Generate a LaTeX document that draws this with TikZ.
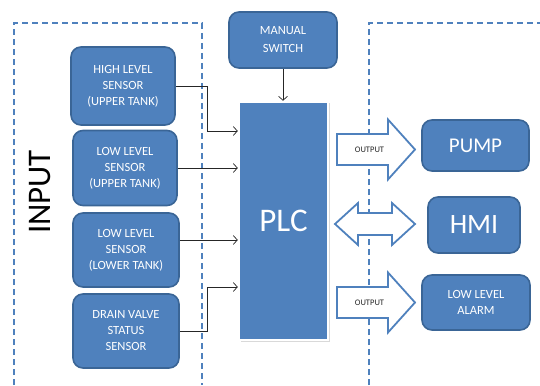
\documentclass[tikz,border=0pt]{standalone}
\usepackage{fontspec}
\setmainfont{Carlito}
\usetikzlibrary{arrows.meta,shadows}
\definecolor{boxblue}{HTML}{4F81BD}
\definecolor{boxedge}{HTML}{3A6596}
\begin{document}
\begin{tikzpicture}[x=1pt,y=-1pt,
  box/.style={draw=boxedge, line width=1.6pt, fill=boxblue, rounded corners=10pt,
    text=white, align=center, font=\fontsize{12.5}{16}\selectfont, inner sep=0pt},
  plcbox/.style={draw=white, line width=2.5pt, fill=boxblue, text=white,
    font=\fontsize{33}{36}\selectfont, inner sep=0pt,
    drop shadow={opacity=0.3, shadow xshift=1.5pt, shadow yshift=-1.5pt}},
  conn/.style={-{Straight Barb[length=4pt,width=9pt]}, line width=0.7pt, black!85},
  dashline/.style={draw=boxblue, line width=1.4pt, dash pattern=on 6pt off 4pt},
  bigarrow/.style={draw=boxblue, line width=1.8pt, fill=white, line join=miter},
  outlabel/.style={font=\fontsize{8.5}{10}\selectfont, inner sep=0pt, text=black!85}
]
\useasboundingbox (0,0) rectangle (540,385);

% dashed frames
\draw[dashline] (14,385) -- (14,23) -- (202,23) -- (202,385);
\draw[dashline] (369,385) -- (369,23) -- (540,23);

% input label
\node[rotate=90, font=\fontsize{33}{36}\selectfont, inner sep=0pt] (input) at (40,192) {INPUT};

% sensor boxes
\node[box, minimum width=104pt, minimum height=78pt] (hl) at (123,86) {HIGH LEVEL\\SENSOR\\(UPPER TANK)};
\node[box, minimum width=104pt, minimum height=75pt] (lu) at (125,168) {LOW LEVEL\\SENSOR\\(UPPER TANK)};
\node[box, minimum width=106pt, minimum height=74pt] (ll) at (126,250) {LOW LEVEL\\SENSOR\\(LOWER TANK)};
\node[box, minimum width=106pt, minimum height=74pt] (dv) at (126,331) {DRAIN VALVE\\STATUS\\SENSOR};

% manual switch and PLC
\node[box, minimum width=108pt, minimum height=56pt, font=\fontsize{12.5}{18}\selectfont] (ms) at (283,40) {MANUAL\\SWITCH};
\node[plcbox, minimum width=89pt, minimum height=238pt] (plc) at (283.5,221) {PLC};

% outputs
\node[box, minimum width=107pt, minimum height=51pt, font=\fontsize{21}{24}\selectfont] (pump) at (475.5,145.5) {PUMP};
\node[box, minimum width=92pt, minimum height=56pt, font=\fontsize{28}{30}\selectfont] (hmi) at (474,225) {HMI};
\node[box, minimum width=108pt, minimum height=55pt] (alarm) at (476,302.5) {LOW LEVEL\\ALARM};

% connectors
\coordinate (hlbend) at (207,131);
\coordinate (dvbend) at (207,287);
\draw[conn] (hl.east) -| (hlbend) -- (hlbend -| plc.west);
\draw[conn] (lu.east) -- (lu.east -| plc.west);
\draw[conn] ([yshift=10pt]ll.east) -- ([yshift=10pt]ll.east -| plc.west);
\draw[conn] (dv.east) -| (dvbend) -- (dvbend -| plc.west);
\draw[conn] (ms.south) -- (ms.south |- plc.north);

% big arrows
\draw[bigarrow] (337,134) -- (388,134) -- (388,119.5) -- (415,149.5) -- (388,179.5) -- (388,165) -- (337,165) -- cycle;
\node[outlabel] (o1) at (369.5,149.5) {OUTPUT};
\draw[bigarrow] (337,287) -- (388,287) -- (388,272.5) -- (415,302.5) -- (388,332.5) -- (388,318) -- (337,318) -- cycle;
\node[outlabel] (o2) at (369.5,302.5) {OUTPUT};
\draw[bigarrow] (335,224) -- (358,203) -- (358,213) -- (392,213) -- (392,203) -- (415,224)
  -- (392,245) -- (392,235) -- (358,235) -- (358,245) -- cycle;
\end{tikzpicture}
\end{document}
